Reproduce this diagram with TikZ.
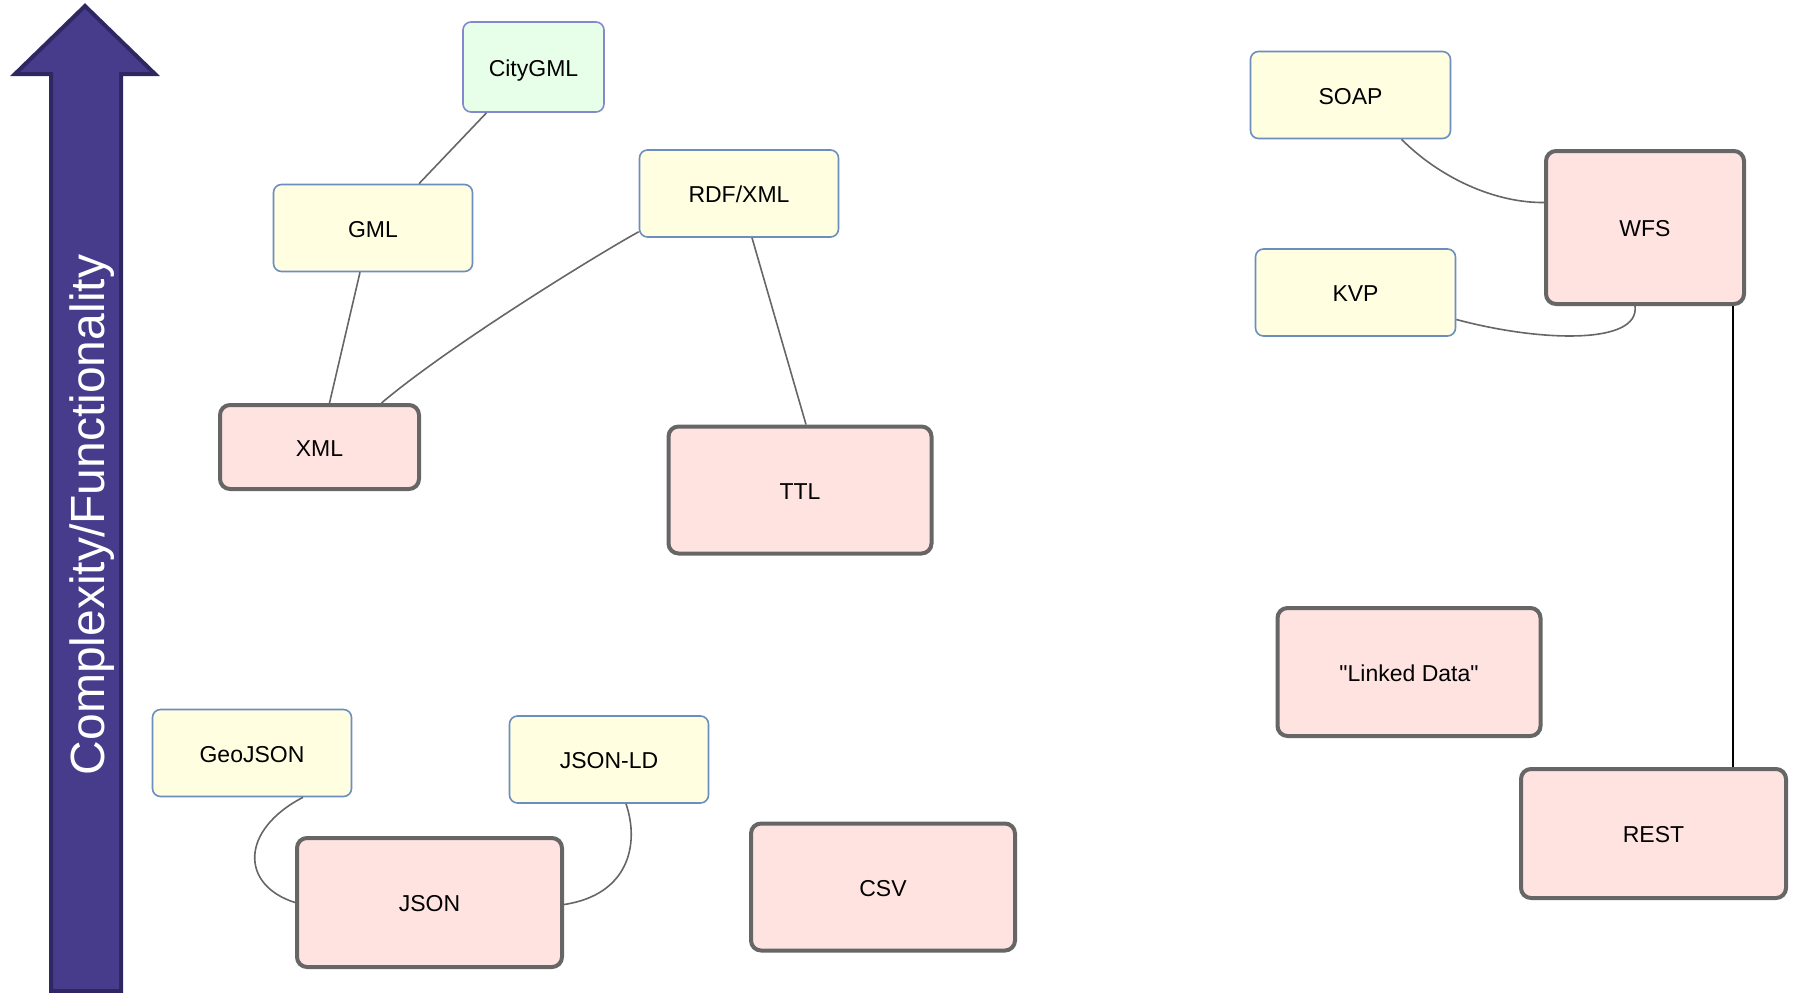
\documentclass[tikz,border=0pt]{standalone}
\usepackage{fontspec}
\setmainfont{Liberation Sans}
\newfontfamily\plainfont{Liberation Sans}
\definecolor{yfill}{HTML}{FFFEE0}
\definecolor{yline}{HTML}{6C8EBF}
\definecolor{gfill}{HTML}{E7FFE9}
\definecolor{gline}{HTML}{8488CC}
\definecolor{pfill}{HTML}{FFE3E1}
\definecolor{pline}{HTML}{666666}
\definecolor{afill}{HTML}{473B8B}
\definecolor{aline}{HTML}{2E2762}
\begin{document}
\begin{tikzpicture}[x=1pt,y=-1pt,
  base/.style={rectangle,rounded corners=8pt,font=\fontsize{23}{27}\selectfont,inner sep=0pt,text height=18.5pt,text depth=0pt},
  ybox/.style={base,fill=yfill,draw=yline,line width=1.6pt},
  gbox/.style={base,fill=gfill,draw=gline,line width=1.6pt},
  pbox/.style={base,fill=pfill,draw=pline,line width=4pt,rounded corners=10pt},
  conn/.style={draw=pline,line width=1.6pt},
  conk/.style={draw=black,line width=2pt}]
\useasboundingbox (0,0) rectangle (1794,993);
% arrow
\draw[fill=afill,draw=aline,line width=4pt,line join=miter]
  (85,6) -- (155,74) -- (121,74) -- (121,991) -- (51,991) -- (51,74) -- (15,74) -- cycle;
\node[rotate=90,text=white,font=\fontsize{48}{56}\selectfont,inner sep=0pt] (axis) at (92,515) {Complexity/Functionality};
% nodes
\node[gbox,minimum width=141pt,minimum height=90pt] (citygml) at (533.5,67) {CityGML};
\node[ybox,minimum width=199pt,minimum height=87pt] (gml) at (373,228) {GML};
\node[ybox,minimum width=199pt,minimum height=87pt] (rdf) at (739,193.5) {RDF/XML};
\node[pbox,minimum width=199pt,minimum height=84pt] (xml) at (319.5,447) {XML};
\node[pbox,minimum width=263pt,minimum height=127pt] (ttl) at (800,490) {TTL};
\node[ybox,minimum width=199pt,minimum height=87pt] (geojson) at (252,753) {GeoJSON};
\node[ybox,minimum width=199pt,minimum height=87pt] (jsonld) at (609,759.5) {JSON-LD};
\node[pbox,minimum width=265pt,minimum height=129pt] (json) at (429.5,902.5) {JSON};
\node[pbox,minimum width=264pt,minimum height=127pt] (csv) at (883,887) {CSV};
\node[ybox,minimum width=200pt,minimum height=87pt] (soap) at (1350.5,95) {SOAP};
\node[ybox,minimum width=200pt,minimum height=87pt] (kvp) at (1355.5,292.5) {KVP};
\node[pbox,minimum width=198pt,minimum height=153pt] (wfs) at (1645,227.5) {WFS};
\node[pbox,minimum width=263pt,minimum height=128pt] (linked) at (1409,672) {\plainfont "Linked Data"};
\node[pbox,minimum width=265pt,minimum height=129pt] (rest) at (1653.5,833.5) {REST};
% connectors
\draw[conn] ([xshift=-47pt]citygml.south) -- ([xshift=46pt]gml.north);
\draw[conn] ([xshift=-13pt]gml.south) -- ([xshift=10pt]xml.north);
\draw[conn] (rdf.south west) ++(0,-6) .. controls (600,253) and (450,345) .. ([xshift=62pt]xml.north);
\draw[conn] ([xshift=13pt]rdf.south) -- ([xshift=6pt]ttl.north);
\draw[conn] ([xshift=51pt]geojson.south) .. controls (240,830) and (240,885) .. (json.west);
\draw[conn] ([xshift=17pt]jsonld.south) .. controls (640,845) and (628,895) .. ([yshift=-2pt]json.east);
\draw[conn] ([xshift=51pt]soap.south) .. controls (1440,178) and (1495,203) .. ([yshift=25pt]wfs.west);
\draw[conn] ([yshift=-27pt]kvp.east) .. controls (1540,342) and (1640,345) .. ([xshift=-10pt]wfs.south);
\draw[conk] ([xshift=88pt]wfs.south) -- ([xshift=79.5pt]rest.north);
\end{tikzpicture}
\end{document}
